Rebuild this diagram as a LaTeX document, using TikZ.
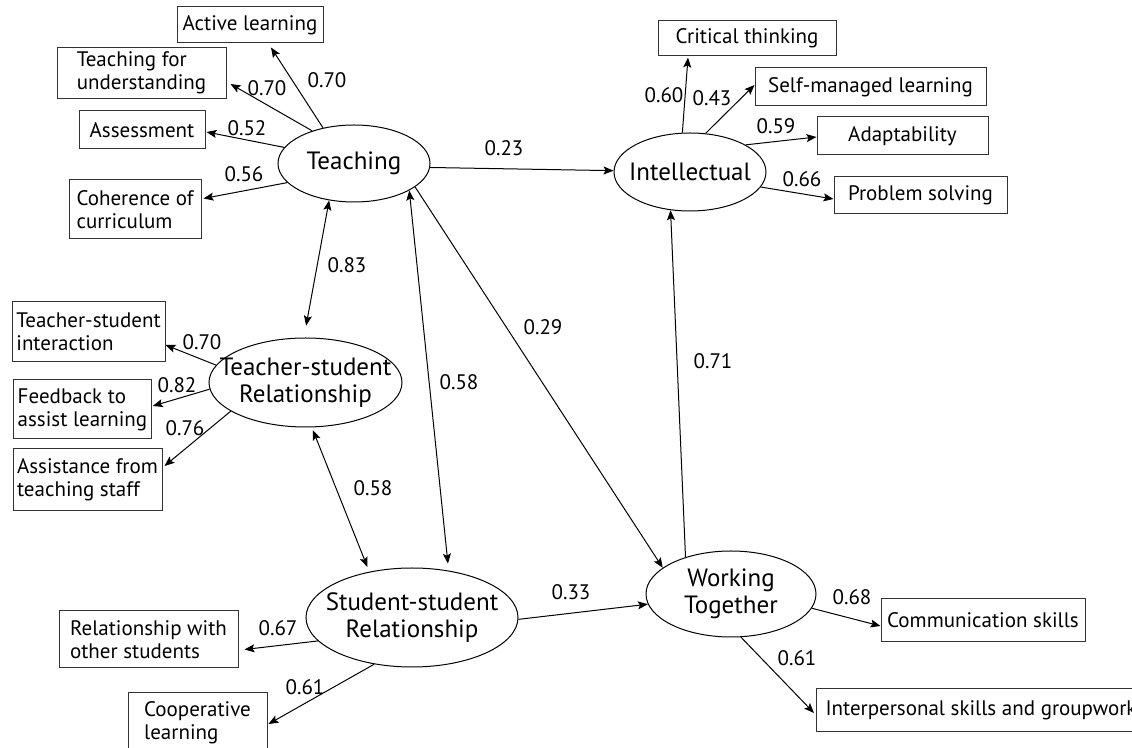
\documentclass[tikz,border=0pt]{standalone}
\usepackage{fontspec}
\setsansfont{PT Sans}
\usetikzlibrary{arrows.meta,shapes.geometric}

\begin{document}
\begin{tikzpicture}[x=0.5pt,y=-0.5pt,>={Stealth[length=5pt,width=4pt,inset=1pt]},font=\sffamily,line width=0.5pt,
    latent/.style={ellipse,draw,align=center,inner xsep=-1.5em,inner ysep=0pt,font=\sffamily\fontsize{12.5}{13.5}\selectfont},
    indicator/.style={draw=black!80,align=left,inner sep=2pt,font=\sffamily\fontsize{10.5}{11.5}\selectfont},
    coef/.style={inner sep=0pt,font=\sffamily\fontsize{10.5}{12}\selectfont}]

    \useasboundingbox (0,0) rectangle (1132,748);

    % Latent factors
    \node [latent,minimum width=76pt,minimum height=38.5pt] (teach) at (354,163.5) {Teaching};
    \node [latent,minimum width=76pt,minimum height=39pt] (intel) at (690,172) {Intellectual};
    \node [latent,minimum width=96.5pt,minimum height=44.5pt] (tsr) at (305.5,382.5) {Teacher-student\\Relationship};
    \node [latent,minimum width=106pt,minimum height=49.5pt] (ssr) at (412,617.5) {Student-student\\Relationship};
    \node [latent,minimum width=85pt,minimum height=43pt] (wt) at (731,594) {Working\\Together};

    % Teaching indicators
    \node [indicator,minimum width=73pt,minimum height=18pt] (active) at (250,25) {Active learning};
    \node [indicator,minimum width=84.5pt,minimum height=25pt] (tfu) at (141.5,73) {Teaching for\\understanding};
    \node [indicator,minimum width=63pt,minimum height=19pt] (assess) at (142,130) {Assessment};
    \node [indicator,minimum width=66pt,minimum height=29.5pt] (coher) at (135,209.5) {Coherence of\\curriculum};

    % Intellectual indicators
    \node [indicator,minimum width=89pt,minimum height=17.5pt] (crit) at (747,38.5) {Critical thinking};
    \node [indicator,minimum width=115.5pt,minimum height=19pt] (self) at (870.5,87) {Self-managed learning};
    \node [indicator,minimum width=85.5pt,minimum height=19pt] (adapt) at (902.5,136) {Adaptability};
    \node [indicator,minimum width=86.5pt,minimum height=18.5pt] (prob) at (920.5,195.5) {Problem solving};

    % Teacher-student indicators
    \node [indicator,minimum width=76.5pt,minimum height=30pt] (tsi) at (88.5,332) {Teacher-student\\interaction};
    \node [indicator,minimum width=67.5pt,minimum height=29.5pt] (feed) at (82.5,409.5) {Feedback to\\assist learning};
    \node [indicator,minimum width=74.5pt,minimum height=31pt] (assist) at (87.5,480) {Assistance from\\teaching staff};

    % Student-student indicators
    \node [indicator,minimum width=89.5pt,minimum height=28.5pt] (rel) at (148.5,639.5) {Relationship with\\other students};
    \node [indicator,minimum width=69.5pt,minimum height=29.5pt] (coop) at (197.5,722.5) {Cooperative\\learning};

    % Working together indicators (last box runs off the page)
    \node [indicator,minimum width=102pt,minimum height=21.5pt] (comm) at (983,620.5) {Communication skills};
    \node [indicator,anchor=west,minimum height=21.5pt,inner xsep=4.5pt] (inter) at (816,710.5) {Interpersonal skills and groupwork};

    % Loadings
    \draw [->] (teach.131) -- ([xshift=10.5pt,yshift=-2pt]active.south);
    \draw [->] (teach.142) -- ([xshift=2pt,yshift=-5.5pt]tfu.east);
    \draw [->] (teach.167) -- ([xshift=0.5pt,yshift=-1pt]assess.east);
    \draw [->] (teach.196) -- ([xshift=1pt,yshift=5.5pt]coher.east);
    \draw [->] (intel.101) -- ([xshift=-29.5pt,yshift=-0.5pt]crit.south);
    \draw [->] (intel.68) -- ([yshift=1pt]self.west);
    \draw [->] (intel.26) -- ([yshift=-0.5pt]adapt.west);
    \draw [->] (intel.348) -- ([yshift=-1.75pt]prob.west);
    \draw [->] (tsr.169) -- ([yshift=-6.5pt]tsi.east);
    \draw [->] (tsr.184) -- ([xshift=0.5pt,yshift=1.75pt]feed.east);
    \draw [->] (tsr.201) -- ([xshift=1pt,yshift=7pt]assist.east);
    \draw [->] (ssr.194) -- ([xshift=3pt,yshift=-5pt]rel.east);
    \draw [->] (ssr.231) -- ([xshift=0.5pt,yshift=-0.75pt]coop.east);
    \draw [->] (wt.350) -- ([yshift=-2.75pt]comm.west);
    \draw [->] (wt.283) -- ([xshift=-1pt,yshift=-1.25pt]inter.west);

    % Paths between factors
    \draw [->] (teach.357) -- (intel.179);
    \draw [<->,shorten >=6pt] (teach.236) -- (tsr.92);
    \draw [<->,shorten >=3.5pt] (teach.334) -- (ssr.52);
    \draw [<->,shorten <=1.5pt,shorten >=2.5pt] (tsr.278) -- (ssr.133);
    \draw [->] (teach.339) -- (wt.159);
    \draw [->] (ssr.359) -- (wt.187);
    \draw [->] (wt.141) -- (intel.243);

    % Coefficients
    \node [coef] (c-active) at (327,80) {0.70};
    \node [coef] (c-tfu) at (267,88) {0.70};
    \node [coef] (c-assess) at (247,128) {0.52};
    \node [coef] (c-coher) at (244,174) {0.56};
    \node [coef] (c-crit) at (664,95) {0.60};
    \node [coef] (c-self) at (712,98) {0.43};
    \node [coef] (c-adapt) at (776,126) {0.59};
    \node [coef] (c-prob) at (802,179) {0.66};
    \node [coef] (c-tsi) at (202,342) {0.70};
    \node [coef] (c-feed) at (177,385) {0.82};
    \node [coef] (c-assist) at (185,428) {0.76};
    \node [coef] (c-rel) at (278,628) {0.67};
    \node [coef] (c-coop) at (305,687) {0.61};
    \node [coef] (c-comm) at (852,597) {0.68};
    \node [coef] (c-inter) at (797,658) {0.61};
    \node [coef] (c-ti) at (504,148) {0.23};
    \node [coef] (c-ttsr) at (347,265) {0.83};
    \node [coef] (c-tssr) at (459,382) {0.58};
    \node [coef] (c-tsrssr) at (373,488) {0.58};
    \node [coef] (c-twt) at (543,327) {0.29};
    \node [coef] (c-wti) at (713,361) {0.71};
    \node [coef] (c-ssrwt) at (571,592) {0.33};

\end{tikzpicture}
\end{document}
